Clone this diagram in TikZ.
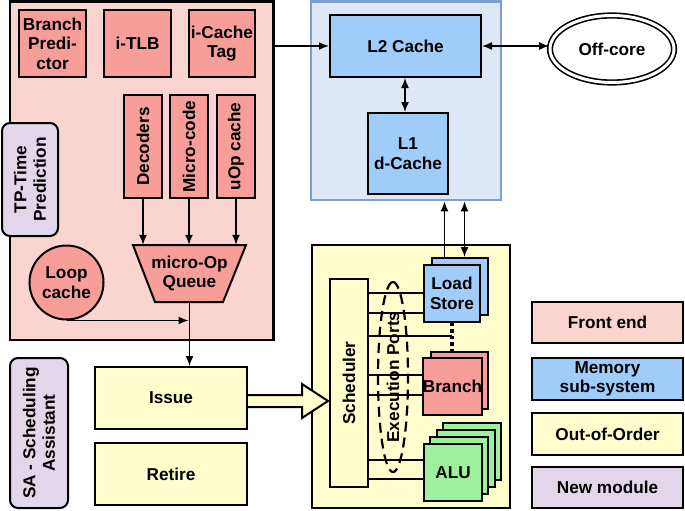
\documentclass[tikz,border=0pt]{standalone}
\usepackage{fontspec}
\setmainfont{Liberation Sans}
\usetikzlibrary{shapes.geometric,arrows.meta}
\definecolor{febg}{RGB}{250,212,207}
\definecolor{fered}{RGB}{248,158,152}
\definecolor{membg}{RGB}{220,232,246}
\definecolor{memline}{RGB}{125,160,205}
\definecolor{memblue}{RGB}{160,204,250}
\definecolor{oooyel}{RGB}{255,253,204}
\definecolor{lav}{RGB}{226,214,234}
\definecolor{alugreen}{RGB}{158,240,158}
\begin{document}
\begin{tikzpicture}[x=1pt,y=-1pt,
  box/.style={draw, line width=2pt, inner sep=0pt, align=center,
    font=\bfseries\fontsize{17.2}{19.5}\selectfont},
  lbl/.style={inner sep=0pt, align=center, font=\bfseries\fontsize{17.2}{19.5}\selectfont},
  arr/.style={line width=1.5pt, -{Latex[length=10pt,width=8pt]}},
  darr/.style={line width=1.5pt, {Latex[length=10pt,width=8pt]}-{Latex[length=10pt,width=8pt]}},
  port/.style={line width=1.5pt},
]
\useasboundingbox (0,0) rectangle (685,511);

% ---------- Front end ----------
\node[box, line width=2.8pt, fill=febg, minimum width=263.5, minimum height=338.5] (fe) at (141.75,170.75) {};
\node[box, fill=fered, minimum width=67, minimum height=67] (bp) at (52.5,43.5) {Branch\\Predi-\\ctor};
\node[box, fill=fered, minimum width=67, minimum height=67] (itlb) at (137.5,43.5) {i-TLB};
\node[box, fill=fered, minimum width=66, minimum height=67] (ict) at (222,43.5) {i-Cache\\Tag};
\node[box, fill=fered, rotate=90, minimum width=103, minimum height=38] (dec) at (143,146.5) {Decoders};
\node[box, fill=fered, rotate=90, minimum width=103, minimum height=38] (mc) at (189,146.5) {Micro-code};
\node[box, fill=fered, rotate=90, minimum width=103, minimum height=38] (uop) at (236,146.5) {uOp cache};
\node[box, fill=lav, rounded corners=8pt, rotate=90, minimum width=113, minimum height=56] (tp) at (30,179.5) {TP-Time\\Prediction};
\filldraw[fill=fered, line width=2pt] (133,245) -- (246,245) -- (223,302) -- (155,302) -- cycle;
\node[lbl, minimum width=113, minimum height=57] (q) at (189.5,273.5) {micro-Op\\Queue};
\node[box, circle, fill=fered, minimum size=74] (loop) at (66.5,282.5) {Loop\\cache};

\draw[arr] (dec.west) -- (dec.west |- q.north);
\draw[arr] (mc.west) -- (mc.west |- q.north);
\draw[arr] (uop.west) -- (uop.west |- q.north);
\draw[arr] (loop.south) -- ([xshift=-1pt]loop.south -| q.south);

% ---------- Issue / Retire / SA ----------
\node[box, fill=oooyel, minimum width=152, minimum height=62] (issue) at (171,398) {Issue};
\node[box, fill=oooyel, minimum width=152, minimum height=62] (retire) at (171,474) {Retire};
\node[box, fill=lav, rounded corners=8pt, rotate=90, minimum width=150, minimum height=58] (sa) at (39,433) {SA - Scheduling\\Assistant};
\draw[arr] (q.south) -- (q.south |- issue.north);

% ---------- Memory subsystem ----------
\node[draw=memline, line width=2.8pt, fill=membg, minimum width=190, minimum height=198.5, inner sep=0pt] (mem) at (406,100.75) {};
\node[box, fill=memblue, minimum width=151, minimum height=62] (l2) at (405.5,46) {L2 Cache};
\node[box, fill=memblue, minimum width=80, minimum height=81] (l1) at (408,153.5) {L1\\d-Cache};
\node[box, ellipse, fill=white, double, double distance=3pt, line width=1.6pt, minimum width=124, minimum height=67] (off) at (612,49) {Off-core};
\draw[darr] (l1.north -| 405,0) -- (l2.south -| 405,0);
\draw[arr] (fe.east |- l2.west) -- (l2.west);
\draw[darr] (l2.east) -- (l2.east -| off.west);

% ---------- Out-of-order ----------
\node[box, fill=oooyel, minimum width=198, minimum height=263] (ooo) at (411,376.5) {};
\node[box, fill=oooyel, rotate=90, minimum width=208, minimum height=38] (sch) at (349,383) {Scheduler};

\node[box, fill=memblue, minimum width=56, minimum height=57] (ls2) at (459.5,286.5) {};
\node[box, fill=memblue, minimum width=56, minimum height=57] (ls) at (452,293.5) {Load\\Store};
\node[box, fill=fered, minimum width=57, minimum height=57] (br2) at (459.5,380) {};
\node[box, fill=fered, minimum width=57, minimum height=57] (br) at (452.5,386.5) {Branch};
\node[box, fill=alugreen, minimum width=58, minimum height=57] (alu4) at (472,451.5) {};
\node[box, fill=alugreen, minimum width=58, minimum height=57] (alu3) at (465.7,458.5) {};
\node[box, fill=alugreen, minimum width=58, minimum height=57] (alu2) at (459.3,465.5) {};
\node[box, fill=alugreen, minimum width=58, minimum height=57] (alu) at (453,472.5) {ALU};

\draw[line width=3.4pt, dash pattern=on 3.4pt off 3pt] (ls.south) -- (ls.south |- br2.north);

\draw[port] (sch.south |- 0,293) -- (ls.west |- 0,293);
\draw[port] (sch.south |- 0,313) -- (ls.west |- 0,313);
\draw[port] (sch.south |- 0,336) -- (ls.south |- 0,336);
\draw[port] (sch.south |- 0,375) -- (br.west |- 0,375);
\draw[port] (sch.south |- 0,395) -- (br.west |- 0,395);
\draw[port] (sch.south |- 0,460) -- (alu.west |- 0,460);
\draw[port] ([xshift=-2pt]sch.south |- 0,479) -- (alu.west |- 0,479);

\node[lbl, ellipse, draw, line width=2.2pt, dash pattern=on 10pt off 6pt, rotate=90, minimum width=190, minimum height=30] (ep) at (393,377) {Execution Ports};

\draw[arr] ([xshift=14pt]ls2.north west) -- ([xshift=14pt]ls2.north west |- mem.south);
\draw[darr] ([xshift=34pt]ls2.north west) -- ([xshift=34pt]ls2.north west |- mem.south);

% big hollow arrow Issue -> Scheduler
\filldraw[fill=oooyel, line width=2pt, line join=miter]
  (issue.east |- 0,395) -- (302,395) -- (302,384) -- (328,401) -- (302,418) -- (302,407) -- (issue.east |- 0,407);

% ---------- Legend ----------
\node[box, fill=febg, minimum width=151, minimum height=41] (lg1) at (607.5,322.5) {Front end};
\node[box, fill=memblue, minimum width=151, minimum height=42] (lg2) at (607.5,379) {Memory\\sub-system};
\node[box, fill=oooyel, minimum width=151, minimum height=42] (lg3) at (607.5,434) {Out-of-Order};
\node[box, fill=lav, minimum width=151, minimum height=41] (lg4) at (607.5,487.5) {New module};
\end{tikzpicture}
\end{document}
